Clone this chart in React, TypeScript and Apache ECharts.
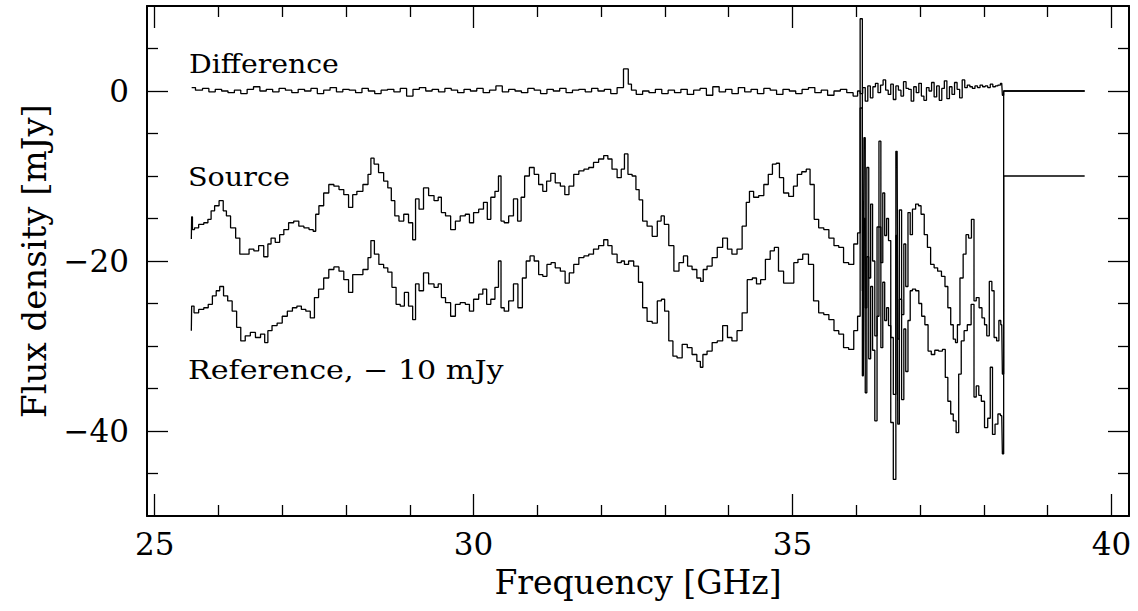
import React, { useEffect, useRef } from "react";
import * as echarts from "echarts";

// ---------- data ----------
const sourceFreq = [
  25.575, 25.585, 25.6, 25.65, 25.73, 25.81, 25.86, 25.91, 25.97, 26.05, 26.1, 26.15, 26.23, 26.31, 26.36, 26.44,
  26.52, 26.59, 26.67, 26.75, 26.8, 26.85, 26.93, 26.99, 27.06, 27.14, 27.22, 27.3, 27.38, 27.46, 27.51, 27.54,
  27.61, 27.69, 27.77, 27.85, 27.93, 28.0, 28.08, 28.13, 28.21, 28.32, 28.37, 28.41, 28.47, 28.55, 28.63, 28.68,
  28.74, 28.79, 28.87, 28.94, 29.02, 29.07, 29.11, 29.18, 29.25, 29.34, 29.42, 29.47, 29.52, 29.6, 29.68, 29.75,
  29.83, 29.91, 29.96, 30.04, 30.12, 30.19, 30.24, 30.3, 30.37, 30.41, 30.45, 30.51, 30.59, 30.66, 30.72, 30.77,
  30.83, 30.92, 30.98, 31.06, 31.11, 31.18, 31.24, 31.32, 31.4, 31.46, 31.53, 31.61, 31.69, 31.77, 31.84, 31.92,
  32.0, 32.08, 32.13, 32.21, 32.29, 32.34, 32.39, 32.45, 32.52, 32.57, 32.62, 32.68, 32.76, 32.84, 32.92, 32.96,
  33.02, 33.1, 33.18, 33.26, 33.32, 33.39, 33.46, 33.54, 33.58, 33.62, 33.7, 33.78, 33.86, 33.95, 34.01, 34.09,
  34.17, 34.25, 34.3, 34.35, 34.43, 34.51, 34.59, 34.65, 34.72, 34.77, 34.82, 34.9, 34.98, 35.05, 35.1, 35.19,
  35.24, 35.31, 35.37, 35.45, 35.53, 35.61, 35.69, 35.76, 35.84, 35.92, 36.0, 36.04,
  36.08, 36.11, 36.13, 36.15, 36.18, 36.21, 36.24, 36.27, 36.31, 36.34, 36.37, 36.4, 36.43, 36.46, 36.49, 36.52,
  36.56, 36.6, 36.64, 36.66, 36.69, 36.73, 36.76, 36.79,
  36.83, 36.86, 36.9, 36.96, 36.99, 37.04, 37.09, 37.14, 37.19, 37.25, 37.3, 37.37, 37.41, 37.46, 37.5, 37.54,
  37.57, 37.6, 37.65, 37.7, 37.74, 37.78, 37.83, 37.86, 37.9, 37.95, 37.99, 38.03, 38.06, 38.11, 38.14, 38.18,
  38.22, 38.25, 38.28, 38.3, 38.32, 39.58,
];
const sourceFlux = [
  -17.4, -14.8, -16.3, -16.1, -15.7, -15.5, -15.1, -14.1, -13.5, -12.9, -14.1, -14.7, -16.1, -17.3, -19.2, -19.2,
  -18.6, -18.8, -18.2, -19.5, -18.0, -17.3, -17.8, -16.9, -16.3, -15.5, -15.3, -15.9, -16.1, -16.3, -16.5, -14.5,
  -13.5, -12.0, -11.0, -11.2, -11.6, -12.2, -13.7, -12.2, -11.8, -11.0, -9.8, -7.9, -8.6, -9.6, -10.6, -11.4,
  -12.9, -14.7, -15.3, -14.5, -15.5, -17.5, -12.7, -13.9, -11.4, -12.3, -12.9, -12.5, -14.3, -14.7, -16.3, -15.3,
  -14.7, -14.5, -15.5, -14.3, -13.9, -13.1, -15.1, -12.5, -11.8, -10.0, -15.3, -15.5, -14.7, -12.7, -15.3, -12.5,
  -10.0, -9.0, -9.8, -11.0, -11.8, -10.6, -9.7, -10.8, -11.2, -12.2, -11.2, -9.8, -9.4, -9.2, -9.0, -8.4,
  -8.0, -7.6, -8.0, -9.2, -10.2, -9.2, -7.4, -9.8, -10.0, -11.6, -12.8, -15.3, -15.9, -17.1, -15.3, -14.7,
  -15.7, -18.2, -21.2, -20.2, -19.4, -20.6, -21.0, -22.0, -22.4, -21.0, -20.6, -19.6, -18.4, -17.3, -18.6, -19.2,
  -18.6, -15.9, -13.1, -11.8, -12.5, -12.3, -11.0, -9.8, -8.6, -8.5, -10.2, -12.0, -12.4, -11.2, -9.8, -9.5,
  -9.2, -11.0, -15.1, -16.1, -16.3, -17.3, -18.2, -18.4, -20.2, -20.4, -18.0, -16.7,
  8.5, -23.5, -5.5, -25.5, -9.0, -22.0, -13.3, -20.0, -28.8, -16.0, -5.9, -20.2, -12.0, -17.0, -15.0, -17.6,
  -29.0, -35.7, -7.1, -29.2, -14.0, -26.3, -18.0, -23.0,
  -14.3, -16.9, -13.9, -13.3, -13.5, -14.5, -16.9, -18.4, -20.4, -20.8, -21.2, -21.8, -23.0, -25.5, -27.5, -29.2,
  -29.6, -27.5, -22.0, -19.2, -16.9, -17.3, -15.1, -24.7, -24.3, -25.5, -26.7, -27.5, -28.8, -22.4, -23.5, -29.0,
  -29.4, -27.0, -27.5, -33.3, 0, 0,
];

// Reference spectrum as plotted (offset by -10 mJy)
const referenceFreq = [
  25.575, 25.585, 25.65, 25.73, 25.81, 25.87, 25.94, 25.99, 26.05, 26.11, 26.18, 26.25, 26.32, 26.38, 26.46, 26.54,
  26.62, 26.7, 26.75, 26.8, 26.88, 26.96, 27.04, 27.12, 27.2, 27.26, 27.34, 27.4, 27.48, 27.53, 27.61, 27.69,
  27.77, 27.85, 27.93, 28.0, 28.08, 28.13, 28.21, 28.32, 28.37, 28.41, 28.48, 28.55, 28.63, 28.68, 28.76, 28.81,
  28.89, 28.94, 29.02, 29.07, 29.11, 29.18, 29.25, 29.34, 29.42, 29.47, 29.52, 29.6, 29.68, 29.75, 29.83, 29.91,
  29.96, 30.04, 30.12, 30.17, 30.24, 30.3, 30.37, 30.41, 30.45, 30.51, 30.59, 30.66, 30.73, 30.8, 30.85, 30.92,
  30.98, 31.06, 31.11, 31.19, 31.24, 31.32, 31.4, 31.47, 31.53, 31.61, 31.69, 31.77, 31.84, 31.92, 32.0, 32.08,
  32.13, 32.21, 32.29, 32.34, 32.39, 32.47, 32.55, 32.62, 32.68, 32.76, 32.84, 32.92, 32.97, 33.02, 33.1, 33.15,
  33.23, 33.31, 33.39, 33.46, 33.54, 33.57, 33.62, 33.7, 33.78, 33.86, 33.95, 34.01, 34.09, 34.17, 34.25, 34.33,
  34.41, 34.46, 34.54, 34.61, 34.69, 34.74, 34.82, 34.9, 34.98, 35.06, 35.11, 35.21, 35.29, 35.37, 35.45, 35.53,
  35.61, 35.69, 35.76, 35.84, 35.92, 36.0, 36.04,
  36.08, 36.11, 36.13, 36.15, 36.18, 36.21, 36.24, 36.27, 36.31, 36.34, 36.37, 36.4, 36.43, 36.46, 36.49, 36.52,
  36.56, 36.6, 36.64, 36.66, 36.69, 36.73, 36.76, 36.79,
  36.83, 36.86, 36.9, 36.96, 37.0, 37.05, 37.1, 37.15, 37.2, 37.26, 37.32, 37.38, 37.41, 37.46, 37.5, 37.54,
  37.59, 37.62, 37.67, 37.71, 37.77, 37.83, 37.86, 37.9, 37.94, 37.98, 38.04, 38.08, 38.12, 38.15, 38.2, 38.24,
  38.28, 38.3, 38.32, 39.58,
];
const referenceFlux = [
  -28.2, -25.3, -26.1, -25.7, -25.5, -25.1, -24.1, -23.5, -23.0, -24.1, -24.7, -25.9, -27.8, -29.4, -28.8, -28.4,
  -29.0, -28.6, -29.6, -28.2, -27.6, -27.3, -26.5, -25.9, -25.5, -25.3, -25.7, -25.9, -26.7, -24.3, -23.3, -22.0,
  -21.0, -20.7, -21.2, -22.2, -23.7, -21.6, -21.6, -21.0, -19.6, -17.6, -19.2, -20.4, -20.8, -21.3, -23.1, -25.1,
  -25.3, -23.7, -25.3, -26.9, -22.7, -23.5, -21.4, -22.7, -23.1, -22.7, -24.3, -24.9, -26.5, -25.1, -24.9, -25.1,
  -25.9, -24.5, -23.9, -23.3, -25.1, -24.5, -23.1, -20.0, -25.5, -25.9, -24.7, -22.7, -25.5, -22.0, -20.0, -19.4,
  -20.0, -21.6, -21.8, -20.4, -20.2, -20.8, -21.2, -22.6, -21.4, -20.4, -19.6, -19.4, -19.2, -18.6, -18.2, -17.5,
  -18.2, -19.2, -20.2, -20.0, -20.4, -20.0, -20.6, -22.5, -25.5, -27.1, -27.3, -24.7, -24.5, -25.9, -29.4, -31.2,
  -31.4, -29.8, -30.2, -31.0, -31.8, -32.5, -31.0, -30.6, -29.6, -29.4, -27.6, -29.0, -29.4, -28.2, -26.1, -22.2,
  -22.0, -22.7, -22.2, -19.8, -18.8, -18.4, -21.2, -22.6, -22.6, -20.2, -19.8, -19.2, -20.4, -24.7, -26.1, -26.3,
  -26.9, -28.2, -28.6, -30.2, -30.4, -28.2, -26.5,
  -2.0, -33.5, -15.0, -35.5, -19.5, -31.5, -23.0, -30.5, -38.8, -26.5, -16.0, -30.2, -22.5, -27.0, -25.5, -27.6,
  -39.0, -45.7, -17.0, -39.2, -24.5, -36.3, -28.0, -33.0,
  -27.0, -23.5, -23.3, -23.5, -25.0, -26.5, -27.5, -30.6, -31.0, -30.5, -30.6, -30.4, -33.7, -36.5, -38.0, -38.8,
  -40.2, -33.3, -29.4, -28.2, -27.5, -25.1, -36.0, -34.7, -35.8, -36.5, -39.6, -38.5, -32.5, -40.4, -39.2, -38.0,
  -38.2, -42.7, -10, -10,
];

const differenceFreq = [
  25.58, 25.7, 25.8, 25.9, 26.0, 26.1, 26.2, 26.3, 26.4, 26.5, 26.6, 26.7, 26.8, 26.9, 27.0, 27.1,
  27.2, 27.3, 27.4, 27.5, 27.6, 27.7, 27.8, 27.9, 28.0, 28.1, 28.2, 28.3, 28.4, 28.5, 28.6, 28.7,
  28.8, 28.9, 29.0, 29.1, 29.2, 29.3, 29.4, 29.5, 29.6, 29.7, 29.8, 29.9, 30.0, 30.1, 30.2, 30.3,
  30.4, 30.5, 30.6, 30.7, 30.8, 30.9, 31.0, 31.1, 31.2, 31.3, 31.4, 31.5, 31.6, 31.7, 31.8, 31.9,
  32.0, 32.1, 32.2, 32.3, 32.4, 32.45, 32.5, 32.6, 32.7, 32.8, 32.9, 33.0, 33.1, 33.2, 33.3, 33.4,
  33.5, 33.6, 33.7, 33.8, 33.9, 34.0, 34.1, 34.2, 34.3, 34.4, 34.5, 34.6, 34.7, 34.8, 34.9, 35.0,
  35.1, 35.2, 35.3, 35.4, 35.5, 35.6, 35.7, 35.8, 35.9, 36.0,
  36.04, 36.08, 36.12, 36.16, 36.2, 36.24, 36.28, 36.32, 36.36, 36.4, 36.44, 36.48, 36.52, 36.56, 36.6, 36.64,
  36.68, 36.72, 36.76, 36.8, 36.84, 36.88, 36.92, 36.96, 37.0, 37.04, 37.08, 37.12, 37.16, 37.2, 37.24, 37.28,
  37.32, 37.36, 37.4, 37.44, 37.48, 37.52, 37.56, 37.6, 37.64, 37.68, 37.72, 37.76, 37.8, 37.84, 37.88, 37.92,
  37.96, 38.0, 38.04, 38.08, 38.12, 38.16, 38.2, 38.24, 38.28, 38.3, 38.32, 39.58,
];
const differenceFlux = [
  0.4, 0.1, 0.3, -0.1, 0.2, 0.0, -0.2, 0.1, -0.3, 0.2, 0.5, 0.0, 0.2, -0.1, 0.3, 0.1,
  -0.2, 0.2, 0.0, 0.3, -0.3, 0.1, 0.4, -0.1, 0.2, 0.1, -0.2, 0.3, 0.0, -0.3, 0.1, 0.2,
  -0.1, 0.3, -0.6, 0.2, 0.4, 0.0, 0.2, -0.1, 0.3, 0.1, -0.2, 0.2, 0.0, 0.3, -0.2, 0.1,
  0.6, -0.1, 0.2, 0.0, -0.2, 0.3, 0.1, -0.3, 0.2, 0.0, 0.3, -0.2, 0.1, 0.2, -0.1, 0.3,
  0.0, 0.2, -0.3, 0.4, 2.6, 0.8, 0.1, -0.4, 0.0, -0.2, 0.2, -0.3, 0.1, -0.2, 0.2, -0.4,
  0.1, 0.3, -0.5, 0.5, -0.1, 0.2, -0.3, 0.4, -0.1, 0.2, -0.3, 0.3, 0.1, -0.4, 0.2, 0.0,
  -0.3, 0.2, 0.4, -0.2, 0.1, -0.5, 0.0, 0.2, -0.2, -0.6,
  0.0, -0.3, 0.4, -1.2, 0.6, -0.8, 0.5, 0.9, -0.2, 0.7, 1.3, 0.1, -0.4, 0.8, -1.0, 0.6,
  0.1, -0.6, 1.1, 0.3, 0.2, -1.2, 0.5, -0.2, 0.9, -0.6, -1.1, 0.4, 0.0, 1.0, -0.7, 0.6,
  -1.1, 0.3, 1.2, -0.9, 0.5, -0.4, 1.0, 0.2, -0.8, 1.3, 0.4, 0.7, 0.5, 0.3, 0.6, 0.4,
  0.7, 0.5, 0.6, 0.4, 0.8, 0.5, 0.6, 0.7, 0.9, -0.5, 0, 0,
];

const xMajorTicks = [25, 30, 35, 40];
const xMinorTicks = [26, 27, 28, 29, 31, 32, 33, 34, 36, 37, 38, 39];
const yMajorTicks = [-40, -20, 0];
const yMinorTicks = [-45, -35, -30, -25, -15, -10, -5, 5];

const xTitle = "Frequency [GHz]";
const yTitle = "Flux density [mJy]";
const labelDifference = "Difference";
const labelSource = "Source";
const labelReference = "Reference, \u2212 10 mJy";

const FONT = "DejaVu Serif";

function pairs(xs: number[], ys: number[]) {
  return xs.map((x, i) => [x, ys[i]]);
}

export default function App() {
  const ref = useRef<HTMLDivElement>(null);

  useEffect(() => {
    if (!ref.current) return;
    const chart = echarts.init(ref.current, null, { renderer: "svg" });

    const xMin = 24.88;
    const xMax = 40.275;
    const yMin = -50;
    const yMax = 10;
    const lineCol = "#000";

    const baseX = (position: "bottom" | "top", ticks: number[], len: number, showLine: boolean, labels: boolean) => ({
      type: "value",
      gridIndex: 0,
      position,
      min: xMin,
      max: xMax,
      axisLine: { show: showLine, onZero: false, lineStyle: { color: lineCol, width: 2 } },
      axisTick: { show: true, inside: true, length: len, customValues: ticks, lineStyle: { color: lineCol, width: 1.3 } },
      axisLabel: labels
        ? { show: true, customValues: ticks, color: "#000", fontFamily: FONT, fontSize: 31, margin: 12 }
        : { show: false },
      splitLine: { show: false },
    });
    const baseY = (position: "left" | "right", ticks: number[], len: number, showLine: boolean, labels: boolean) => ({
      type: "value",
      gridIndex: 0,
      position,
      min: yMin,
      max: yMax,
      axisLine: { show: showLine, onZero: false, lineStyle: { color: lineCol, width: 2 } },
      axisTick: { show: true, inside: true, length: len, customValues: ticks, lineStyle: { color: lineCol, width: 1.3 } },
      axisLabel: labels
        ? {
            show: true,
            customValues: ticks,
            color: "#000",
            fontFamily: FONT,
            fontSize: 31,
            margin: 18,
            formatter: (v: number) => (v < 0 ? "\u2212" + Math.abs(v) : String(v)),
          }
        : { show: false },
      splitLine: { show: false },
    });

    const xAxes: any[] = [
      {
        ...baseX("bottom", xMajorTicks, 22, true, true),
        name: xTitle,
        nameLocation: "middle",
        nameGap: 50,
        nameTextStyle: { color: "#000", fontFamily: FONT, fontSize: 33 },
      },
      baseX("bottom", xMinorTicks, 11, false, false),
      baseX("top", xMajorTicks, 22, true, false),
      baseX("top", xMinorTicks, 11, false, false),
    ];
    const yAxes: any[] = [
      {
        ...baseY("left", yMajorTicks, 21, true, true),
        name: yTitle,
        nameLocation: "middle",
        nameGap: 96,
        nameTextStyle: { color: "#000", fontFamily: FONT, fontSize: 34 },
      },
      baseY("left", yMinorTicks, 11, false, false),
      baseY("right", yMajorTicks, 21, true, false),
      baseY("right", yMinorTicks, 11, false, false),
    ];

    const lineSeries = (name: string, data: number[][]) => ({
      name,
      type: "line",
      xAxisIndex: 0,
      yAxisIndex: 0,
      step: "middle",
      showSymbol: false,
      symbol: "none",
      silent: true,
      lineStyle: { color: "#000", width: 1.3 },
      data,
    });

    const annot = (text: string, x: number, y: number, sx: number) => ({
      type: "text",
      x,
      y,
      scaleX: sx,
      style: { text, fill: "#000", font: `26px "${FONT}"`, verticalAlign: "middle" },
    });

    chart.setOption({
      animation: false,
      backgroundColor: "#fff",
      grid: { left: 147, right: 9, top: 6, bottom: 95, containLabel: false, outerBoundsMode: "none" },
      xAxis: xAxes,
      yAxis: yAxes,
      series: [
        lineSeries("Difference", pairs(differenceFreq, differenceFlux)),
        lineSeries("Source", pairs(sourceFreq, sourceFlux)),
        lineSeries("Reference", pairs(referenceFreq, referenceFlux)),
      ],
      graphic: [
        annot(labelDifference, 189, 64, 1.09),
        annot(labelSource, 188, 177, 1.1),
        annot(labelReference, 188, 370, 1.16),
      ],
    });

    return () => chart.dispose();
  }, []);

  return <div ref={ref} style={{ position: "fixed", left: 0, top: 0, width: 1138, height: 611 }} />;
}
